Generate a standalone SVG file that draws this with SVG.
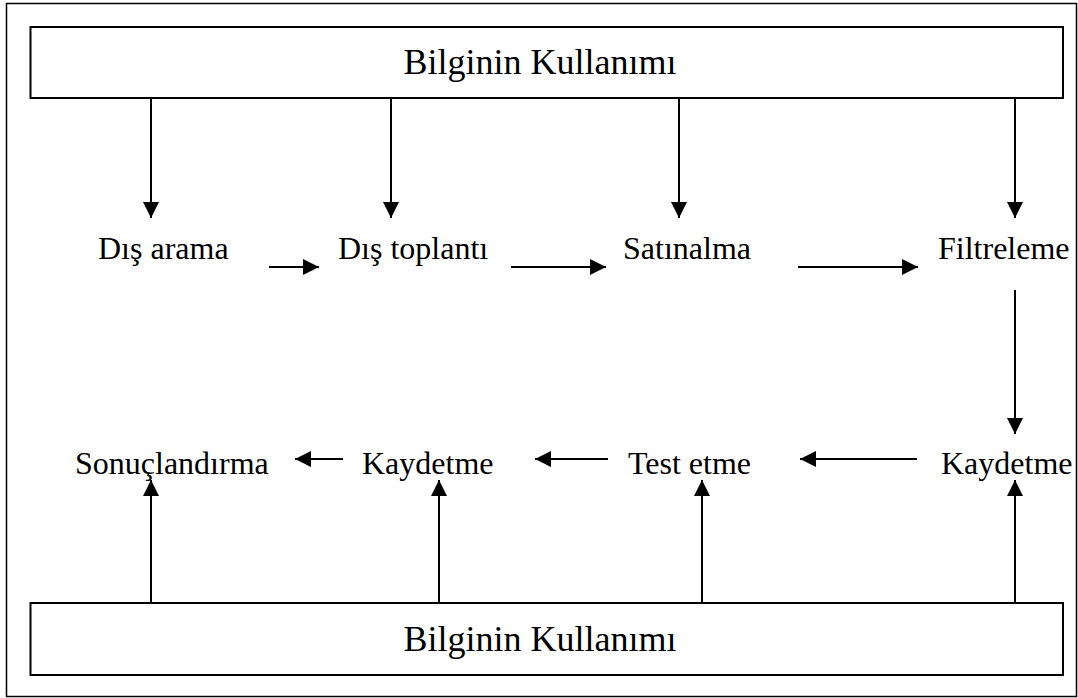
<svg xmlns="http://www.w3.org/2000/svg" width="1078" height="698" viewBox="0 0 1078 698">
  <defs>
    <marker id="arrow" markerUnits="userSpaceOnUse" markerWidth="16" markerHeight="16" viewBox="0 0 16 16" refX="16" refY="8" orient="auto">
      <polygon points="0,0 16,8 0,16" fill="#000"/>
    </marker>
    <style>
      .frame { fill: #fff; stroke: #000; stroke-width: 1.5; }
      .box { fill: #fff; stroke: #000; stroke-width: 2; }
      .lbl { font-family: "Liberation Serif", "Times New Roman", serif; font-size: 32px; fill: #000; }
      .bar { font-size: 36px; text-anchor: middle; }
      .conn line { stroke: #000; stroke-width: 2; marker-end: url(#arrow); }
    </style>
  </defs>

  <rect width="1078" height="698" fill="#fff"/>
  <rect class="frame" x="6.5" y="3.5" width="1070" height="693"/>

  <!-- connectors -->
  <g id="connectors" class="conn">
    <!-- from the top bar down -->
    <line x1="151" y1="98" x2="151" y2="218"/>
    <line x1="391" y1="98" x2="391" y2="218"/>
    <line x1="679" y1="98" x2="679" y2="218"/>
    <line x1="1015" y1="98" x2="1015" y2="218"/>
    <!-- upper row, left to right -->
    <line x1="269" y1="267" x2="319" y2="267"/>
    <line x1="511" y1="267" x2="606" y2="267"/>
    <line x1="798" y1="267" x2="918" y2="267"/>
    <!-- Filtreleme to Kaydetme -->
    <line x1="1015" y1="290" x2="1015" y2="434"/>
    <!-- lower row, right to left -->
    <line x1="917" y1="459" x2="800" y2="459"/>
    <line x1="608" y1="459" x2="535" y2="459"/>
    <line x1="343" y1="459" x2="295" y2="459"/>
    <!-- from the bottom bar up -->
    <line x1="151" y1="603" x2="151" y2="480"/>
    <line x1="439" y1="603" x2="439" y2="480"/>
    <line x1="702" y1="603" x2="702" y2="480"/>
    <line x1="1015" y1="603" x2="1015" y2="480"/>
  </g>

  <g id="top-bar">
    <rect class="box" x="30.5" y="27" width="1032.5" height="71"/>
    <text class="lbl bar" x="540" y="74">Bilginin Kullanımı</text>
  </g>
  <g id="bottom-bar">
    <rect class="box" x="30.5" y="603" width="1032.5" height="72"/>
    <text class="lbl bar" x="540" y="651">Bilginin Kullanımı</text>
  </g>

  <g id="dis-arama"><text class="lbl" x="98" y="259">Dış arama</text></g>
  <g id="dis-toplanti"><text class="lbl" x="338" y="259">Dış toplantı</text></g>
  <g id="satinalma"><text class="lbl" x="623" y="259">Satınalma</text></g>
  <g id="filtreleme"><text class="lbl" x="938" y="259">Filtreleme</text></g>

  <g id="sonuclandirma"><text class="lbl" x="75" y="474">Sonuçlandırma</text></g>
  <g id="kaydetme-1"><text class="lbl" x="362" y="474">Kaydetme</text></g>
  <g id="test-etme"><text class="lbl" x="628" y="474">Test etme</text></g>
  <g id="kaydetme-2"><text class="lbl" x="941" y="474">Kaydetme</text></g>
</svg>
